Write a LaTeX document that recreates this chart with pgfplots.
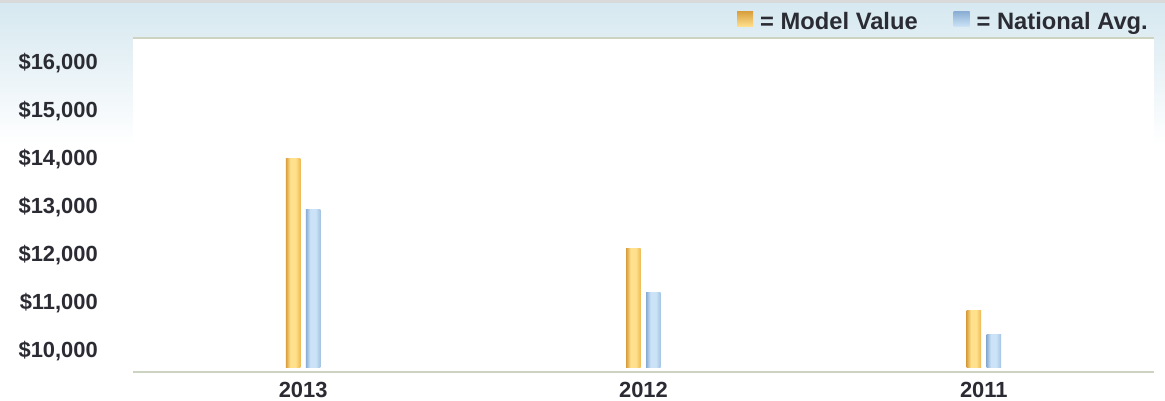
\documentclass[border=0pt]{standalone}
\usepackage{pgfplots}
\pgfplotsset{compat=1.18}
\usepackage{fontspec}
\setmainfont{Liberation Sans}
\definecolor{txt}{HTML}{2B2B33}
\definecolor{bgtop}{HTML}{D6E8F0}
\definecolor{lineC}{HTML}{CDD3C1}
\definecolor{oL}{HTML}{D9A040}
\definecolor{oM}{HTML}{FFE08C}
\definecolor{oR}{HTML}{EDB952}
\definecolor{bL}{HTML}{8AAED4}
\definecolor{bM}{HTML}{CCE3F7}
\definecolor{bR}{HTML}{A2C3E2}
\pgfdeclarehorizontalshading{modelsh}{100bp}{color(0bp)=(oL); color(25bp)=(oL); color(40bp)=(oM); color(58bp)=(oM); color(75bp)=(oR); color(100bp)=(oR)}
\pgfdeclarehorizontalshading{natsh}{100bp}{color(0bp)=(bL); color(25bp)=(bL); color(40bp)=(bM); color(58bp)=(bM); color(75bp)=(bR); color(100bp)=(bR)}
\pgfplotsset{
  modelbar/.style={draw=none, bar shift=-10bp, shade, shading=modelsh},
  natbar/.style={draw=none, bar shift=10bp, shade, shading=natsh},
}
\begin{document}
\begin{tikzpicture}
\useasboundingbox (0bp,0bp) rectangle (1165bp,401bp);
\fill[white] (0bp,0bp) rectangle (1165bp,401bp);
\shade[top color=bgtop, bottom color=white] (0bp,256bp) rectangle (1165bp,398bp);
\fill[gray!30] (0bp,398bp) rectangle (1165bp,401bp);
\coordinate (O) at (133bp,33bp);
\begin{axis}[
  at={(O)}, anchor=south west,
  scale only axis, width=1021bp, height=330bp,
  xmin=-0.5, xmax=2.5, ymin=9625, ymax=16500,
  scaled y ticks=false,
  axis line style={draw=none},
  axis background/.style={fill=white},
  major tick length=0pt,
  xtick={0,1,2}, xticklabels={2013,2012,2011},
  ytick={10000,11000,12000,13000,14000,15000,16000},
  yticklabels={{\$10,000},{\$11,000},{\$12,000},{\$13,000},{\$14,000},{\$15,000},{\$16,000}},
  ticklabel style={font=\fontsize{22}{26}\selectfont\bfseries, text=txt, inner sep=0pt},
  xticklabel style={anchor=north, yshift=-14bp},
  yticklabel style={anchor=base east, xshift=-35bp, yshift=-7.9bp},
  ybar, bar width=14.5bp,
  legend columns=2,
  legend style={at={(1,1)}, anchor=south east, xshift=-6bp, yshift=6.4bp,
    draw=none, fill=none, inner sep=0pt,
    font=\fontsize{23.8}{27}\selectfont\bfseries, text=txt,
    nodes={inner sep=0pt},
    /tikz/every odd column/.append style={column sep=7bp},
    /tikz/every even column/.append style={column sep=36bp}},
]
\addplot[modelbar, legend image code/.code={\shade[top color=oL, bottom color=oM] (0bp,-4.5bp) rectangle (16bp,10.5bp);}] coordinates {(0,13980)};
\addlegendentry{= Model Value}
\addplot[natbar, legend image code/.code={\shade[top color=bL, bottom color=bM] (0bp,-4.5bp) rectangle (16bp,10.5bp);}] coordinates {(0,12920)};
\addlegendentry{= National Avg.}
\addplot[modelbar, forget plot] coordinates {(1,12120)};
\addplot[natbar, forget plot] coordinates {(1,11190)};
\addplot[modelbar, forget plot] coordinates {(2,10830)};
\addplot[natbar, forget plot] coordinates {(2,10333)};
\end{axis}
\draw[lineC, line width=2bp] (133bp,363bp) -- (1154bp,363bp);
\draw[lineC, line width=2bp] (133bp,29bp) -- (1154bp,29bp);
\end{tikzpicture}
\end{document}
